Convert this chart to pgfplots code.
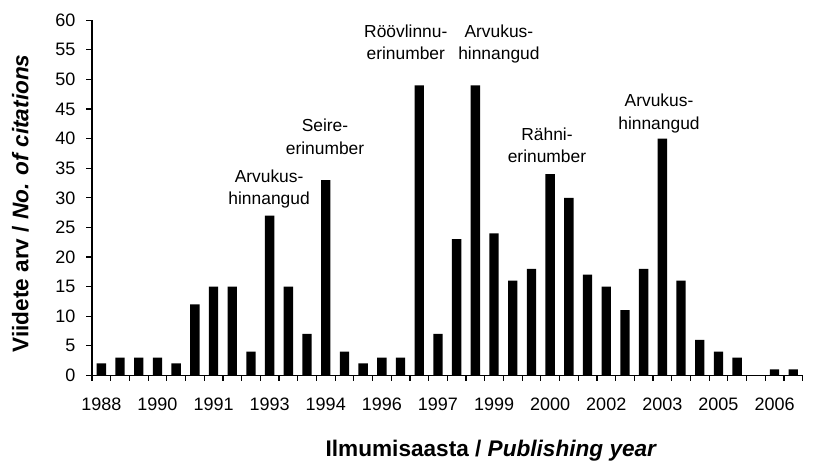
\documentclass[border=0pt]{standalone}
\usepackage{fontspec}
\setmainfont{Liberation Sans}
\usepackage{pgfplots}
\pgfplotsset{compat=1.18}
\begin{document}
\begin{tikzpicture}
\path[use as bounding box, fill=white] (0,0) rectangle (409pt,231pt);
\begin{axis}[
  at={(46pt,43.35pt)}, anchor=south west,
  width=355.3pt, height=177.5pt, scale only axis,
  xmin=-0.5, xmax=37.5, ymin=0, ymax=60,
  axis lines*=left,
  axis line style={black, line width=0.6pt},
  every tick/.style={black, line width=0.6pt},
  major tick length=2.8pt,
  tick align=outside,
  ytick={0,5,...,60},
  xtick={-0.5,0.5,...,37.5},
  xticklabels={1988,,,1990,,,1991,,,1993,,,1994,,,1996,,,1997,,,1999,,,2000,,,2002,,,2003,,,2005,,,2006,,,},
  xticklabel style={xshift=4.675pt, yshift=-5pt, font=\fontsize{9}{11}\selectfont},
  yticklabel style={xshift=-2pt, font=\fontsize{9}{11}\selectfont},
  /pgf/number format/assume math mode=true,
  xlabel={Ilmumisaasta / \textit{Publishing year}},
  ylabel={Viidete arv / \textit{No. of citations}},
  xlabel style={at={(axis description cs:0.562,-0.229)}, anchor=base, font=\fontsize{11.3}{14}\bfseries},
  ylabel style={at={(axis description cs:-0.0896,0.484)}, anchor=base, font=\fontsize{11.3}{14}\bfseries},
  ybar, bar width=0.5,
  clip=false,
]
\addplot[fill=black, draw=none] coordinates {
(0,2) (1,3) (2,3) (3,3) (4,2) (5,12) (6,15) (7,15) (8,4) (9,27)
(10,15) (11,7) (12,33) (13,4) (14,2) (15,3) (16,3) (17,49) (18,7) (19,23)
(20,49) (21,24) (22,16) (23,18) (24,34) (25,30) (26,17) (27,15) (28,11) (29,18)
(30,40) (31,16) (32,6) (33,4) (34,3) (35,0) (36,1) (37,1)
};
\begin{scope}[every node/.style={align=center, anchor=base, inner sep=0pt, font=\fontsize{8.7}{11.4}\selectfont}]
\node at (axis cs:8.97,28.8) {Arvukus-\\hinnangud};
\node at (axis cs:11.96,37.4) {Seire-\\erinumber};
\node at (axis cs:16.28,53.3) {Röövlinnu-\\erinumber};
\node at (axis cs:21.26,53.3) {Arvukus-\\hinnangud};
\node at (axis cs:23.83,35.9) {Rähni-\\erinumber};
\node at (axis cs:29.82,41.5) {Arvukus-\\hinnangud};
\end{scope}
\end{axis}
\end{tikzpicture}
\end{document}
